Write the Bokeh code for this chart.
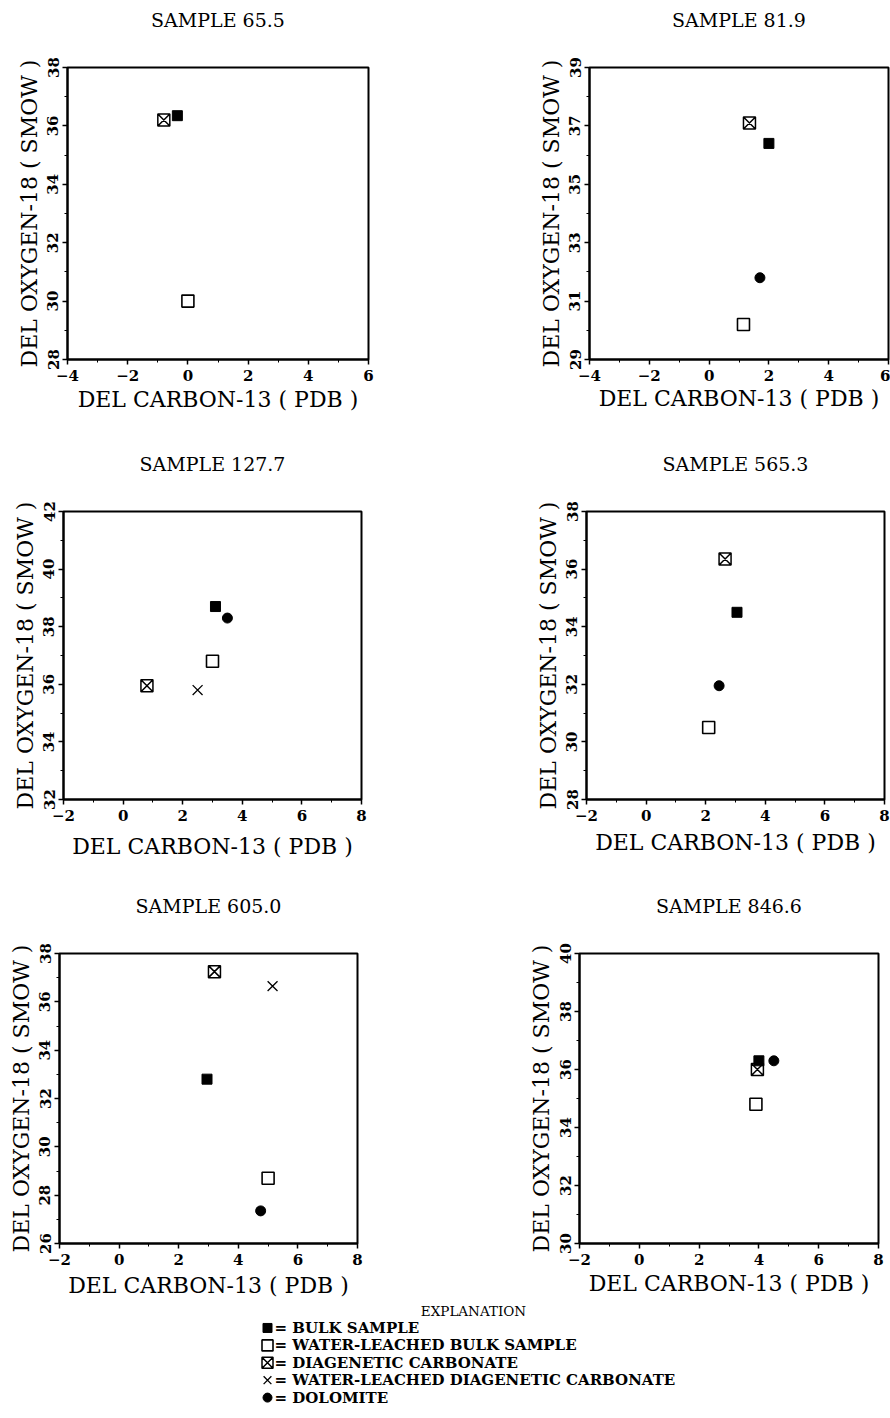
import numpy as np
from bokeh.plotting import figure
from bokeh.layouts import column, row
from bokeh.models import Range1d, FixedTicker, Title
from bokeh.core.properties import value
from bokeh.embed import file_html
from bokeh.resources import INLINE

# ---------------- data ----------------
samples = ["SAMPLE 65.5", "SAMPLE 81.9", "SAMPLE 127.7",
           "SAMPLE 565.3", "SAMPLE 605.0", "SAMPLE 846.6"]
x_min = [-4, -4, -2, -2, -2, -2]
x_max = [6, 6, 8, 8, 8, 8]
y_min = [28, 29, 32, 28, 26, 30]
y_max = [38, 39, 42, 38, 38, 40]

# del C-13 (PDB) / del O-18 (SMOW); None = not analysed
bulk_c = [-0.35, 2.0, 3.1, 3.05, 2.95, 4.0]
bulk_o = [36.35, 36.4, 38.7, 34.5, 32.8, 36.3]
wl_bulk_c = [0.0, 1.15, 3.0, 2.1, 5.0, 3.9]
wl_bulk_o = [30.0, 30.2, 36.8, 30.5, 28.7, 34.8]
diag_c = [-0.8, 1.35, 0.8, 2.65, 3.2, 3.95]
diag_o = [36.2, 37.1, 35.95, 36.35, 37.25, 36.0]
wl_diag_c = [None, None, 2.5, None, 5.15, None]
wl_diag_o = [None, None, 35.8, None, 36.65, None]
dol_c = [None, 1.7, 3.5, 2.45, 4.75, 4.5]
dol_o = [None, 31.8, 38.3, 31.95, 27.35, 36.3]

legend_labels = ["BULK SAMPLE", "WATER-LEACHED BULK SAMPLE",
                 "DIAGENETIC CARBONATE",
                 "WATER-LEACHED DIAGENETIC CARBONATE", "DOLOMITE"]

# ---------------- styles / layout ----------------
FONT = "DejaVu Serif"
FIG_W = 445
row_heights = [430, 435, 436]
# (left, right, top, bottom) borders around each plot frame
borders = [(67, 77, 62, 71), (144, 2, 67, 69),
           (63, 84, 76, 66), (141, 6, 81, 61),
           (59, 88, 84, 58), (134, 12, 88, 53)]
xlabel_standoff = [3, 2, 10, 6, 5, 3]
SPACER_SIZE = "18px"   # gap between plot frame and sample title

series = [
    # (c, o, marker, size, fill, line_width)
    (wl_bulk_c, wl_bulk_o, "square", 12, "white", 1.6),
    (diag_c, diag_o, "square_x", 12, "white", 1.5),
    (wl_diag_c, wl_diag_o, "x", 14, None, 1.3),
    (bulk_c, bulk_o, "square", 10, "black", 1.0),
    (dol_c, dol_o, "circle", 10, "black", 1.0),
]
legend_order = [3, 0, 1, 2, 4]


def make_panel(i):
    l, r, t, b = borders[i]
    h = row_heights[i // 2]
    p = figure(width=FIG_W, height=h,
               x_range=Range1d(x_min[i], x_max[i]),
               y_range=Range1d(y_min[i], y_max[i]),
               toolbar_location=None, output_backend="svg",
               min_border_left=l, min_border_right=r,
               min_border_top=t, min_border_bottom=b,
               x_axis_label="DEL CARBON-13 ( PDB )",
               y_axis_label="DEL OXYGEN-18 ( SMOW )")
    p.grid.visible = False
    p.outline_line_color = "black"
    p.outline_line_width = 2
    p.background_fill_color = "white"
    p.border_fill_color = "white"

    xt = list(np.arange(x_min[i], x_max[i] + 0.1, 2))
    xm = list(np.arange(x_min[i], x_max[i] + 0.1, 1))
    yt = list(np.arange(y_min[i], y_max[i] + 0.1, 2))
    ym = list(np.arange(y_min[i], y_max[i] + 0.1, 1))
    p.xaxis.ticker = FixedTicker(ticks=xt, minor_ticks=xm)
    p.yaxis.ticker = FixedTicker(ticks=yt, minor_ticks=ym)
    for ax in (p.xaxis, p.yaxis):
        ax.axis_line_width = 2
        ax.axis_line_color = "black"
        ax.major_tick_line_width = 1.5
        ax.major_tick_out = 5
        ax.major_tick_in = 0
        ax.minor_tick_out = 3
        ax.minor_tick_in = 0
        ax.minor_tick_line_width = 1
        ax.major_label_text_font = FONT
        ax.major_label_text_font_size = "15px"
        ax.major_label_text_font_style = "bold"
        ax.major_label_text_color = "black"
        ax.axis_label_text_font = FONT
        ax.axis_label_text_font_size = "22px"
        ax.axis_label_text_font_style = "normal"
        ax.axis_label_text_color = "black"
    p.xaxis.major_label_standoff = 5
    p.xaxis.axis_label_standoff = xlabel_standoff[i]
    p.yaxis.major_label_orientation = "vertical"
    p.yaxis.major_label_standoff = 4
    p.yaxis.axis_label_standoff = 3

    # spacer between frame and title, then the sample title
    p.add_layout(Title(text=" ", text_font_size=SPACER_SIZE), "above")
    p.add_layout(Title(text=samples[i], align="center",
                       text_font=FONT, text_font_size="19px",
                       text_font_style="normal", text_color="black"),
                 "above")

    for c, o, marker, size, fill, lw in series:
        if c[i] is None:
            continue
        p.scatter([c[i]], [o[i]], marker=marker, size=size,
                  fill_color=fill, line_color="black", line_width=lw)
    return p


panels = [make_panel(i) for i in range(6)]

# ---------------- explanation (key) ----------------
LEG_H = 1418 - sum(row_heights)
lf = figure(width=890, height=LEG_H, x_range=Range1d(0, 890),
            y_range=Range1d(6.2, -0.52), toolbar_location=None,
            output_backend="svg", min_border=0,
            x_axis_location=None, y_axis_location=None)
lf.grid.visible = False
lf.outline_line_color = None
lf.text(x=[473], y=[0], text=["EXPLANATION"], text_align="center",
        text_baseline="middle", text_font=value(FONT),
        text_font_size="13.5px", text_color="black")
for k, si in enumerate(legend_order):
    c, o, marker, size, fill, lw = series[si]
    lf.scatter([267], [k + 1], marker=marker, size=min(size, 12) - 1,
               fill_color=fill, line_color="black", line_width=lw)
    lf.text(x=[274], y=[k + 1], text=["= " + legend_labels[k]],
            text_align="left", text_baseline="middle",
            text_font=value(FONT), text_font_style="bold",
            text_font_size="15px", text_color="black")

layout = column(row(panels[0], panels[1]),
                row(panels[2], panels[3]),
                row(panels[4], panels[5]),
                lf)

open("out.html", "w").write(file_html(layout, INLINE))
